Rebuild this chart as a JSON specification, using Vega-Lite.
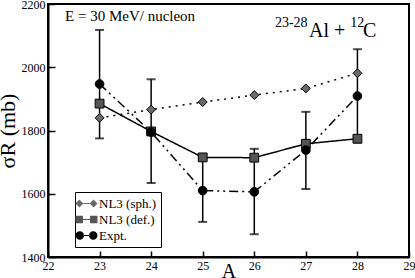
{
  "$schema": "https://vega.github.io/schema/vega-lite/v6.json",
  "autosize": {"type": "none"},
  "width": 361,
  "height": 253,
  "padding": {"left": 48, "top": 4, "right": 6, "bottom": 21},
  "background": "white",
  "config": {
    "font": "'Liberation Serif', 'Times New Roman', 'DejaVu Serif', serif",
    "view": {"stroke": "black", "strokeWidth": 2},
    "axis": {"labelFont": "'Liberation Serif', 'Times New Roman', 'DejaVu Serif', serif", "titleFont": "'Liberation Serif', 'Times New Roman', 'DejaVu Serif', serif", "labelColor": "black", "titleColor": "black", "domainColor": "black", "domainWidth": 2, "tickColor": "black", "tickWidth": 1.5, "grid": false, "titleFontWeight": "normal", "labelFontSize": 12},
    "legend": {"labelFont": "'Liberation Serif', 'Times New Roman', 'DejaVu Serif', serif"}
  },
  "datasets": {
    "main": [
      {"A": 23, "series": "NL3 (sph.)", "sigma": 1840},
      {"A": 24, "series": "NL3 (sph.)", "sigma": 1866},
      {"A": 25, "series": "NL3 (sph.)", "sigma": 1890},
      {"A": 26, "series": "NL3 (sph.)", "sigma": 1912},
      {"A": 27, "series": "NL3 (sph.)", "sigma": 1933},
      {"A": 28, "series": "NL3 (sph.)", "sigma": 1981},
      {"A": 23, "series": "NL3 (def.)", "sigma": 1885},
      {"A": 24, "series": "NL3 (def.)", "sigma": 1797},
      {"A": 25, "series": "NL3 (def.)", "sigma": 1715},
      {"A": 26, "series": "NL3 (def.)", "sigma": 1714},
      {"A": 27, "series": "NL3 (def.)", "sigma": 1758},
      {"A": 28, "series": "NL3 (def.)", "sigma": 1774},
      {"A": 23, "series": "Expt.", "sigma": 1947, "lo": 1775, "hi": 2118},
      {"A": 24, "series": "Expt.", "sigma": 1795, "lo": 1634, "hi": 1962},
      {"A": 25, "series": "Expt.", "sigma": 1610, "lo": 1511, "hi": 1712},
      {"A": 26, "series": "Expt.", "sigma": 1606, "lo": 1472, "hi": 1742},
      {"A": 27, "series": "Expt.", "sigma": 1738, "lo": 1615, "hi": 1859},
      {"A": 28, "series": "Expt.", "sigma": 1909, "lo": 1762, "hi": 2057}
    ]
  },
  "layer": [
    {
      "data": {"name": "main"},
      "transform": [{"filter": "datum.series === 'Expt.'"}],
      "mark": {"type": "rule", "color": "black", "strokeWidth": 1.5},
      "encoding": {
        "x": {"field": "A", "type": "quantitative", "scale": {"domain": [22, 29]},
          "axis": {"values": [22, 23, 24, 25, 26, 27, 28, 29], "format": "d", "title": "A", "titleFontSize": 20, "tickSize": -6, "labelPadding": 9, "titleY": 20, "titleBaseline": "alphabetic", "labelFlush": false}},
        "y": {"field": "lo", "type": "quantitative", "scale": {"domain": [1400, 2200]},
          "axis": {"values": [1400, 1450, 1500, 1550, 1600, 1650, 1700, 1750, 1800, 1850, 1900, 1950, 2000, 2050, 2100, 2150, 2200],
            "format": "d",
            "labelExpr": "datum.value % 100 === 0 ? datum.label : ''",
            "tickSize": {"condition": {"test": "datum.value % 100 === 0", "value": -7}, "value": -4},
            "labelPadding": 10, "title": "σR (mb)", "titleFontSize": 22, "titlePadding": 2, "labelFlush": false}},
        "y2": {"field": "hi"}
      }
    },
    {
      "data": {"name": "main"},
      "transform": [{"filter": "datum.series === 'Expt.'"}],
      "mark": {"type": "tick", "orient": "horizontal", "color": "black", "thickness": 2, "size": 9},
      "encoding": {
        "x": {"field": "A", "type": "quantitative"},
        "y": {"field": "lo", "type": "quantitative"}
      }
    },
    {
      "data": {"name": "main"},
      "transform": [{"filter": "datum.series === 'Expt.'"}],
      "mark": {"type": "tick", "orient": "horizontal", "color": "black", "thickness": 2, "size": 9},
      "encoding": {
        "x": {"field": "A", "type": "quantitative"},
        "y": {"field": "hi", "type": "quantitative"}
      }
    },
    {
      "data": {"name": "main"},
      "mark": {"type": "line", "color": "black", "strokeWidth": 1.5},
      "encoding": {
        "x": {"field": "A", "type": "quantitative"},
        "y": {"field": "sigma", "type": "quantitative"},
        "detail": {"field": "series"},
        "strokeDash": {"field": "series", "type": "nominal", "legend": null,
          "scale": {"domain": ["NL3 (sph.)", "NL3 (def.)", "Expt."], "range": [[2, 5], [1, 0], [9, 4, 2, 4, 2, 4]]}}
      }
    },
    {
      "data": {"name": "main"},
      "mark": {"type": "point", "filled": true, "stroke": "black", "strokeWidth": 1, "opacity": 1},
      "encoding": {
        "x": {"field": "A", "type": "quantitative"},
        "y": {"field": "sigma", "type": "quantitative"},
        "shape": {"field": "series", "type": "nominal", "legend": null,
          "scale": {"domain": ["NL3 (sph.)", "NL3 (def.)", "Expt."], "range": ["diamond", "square", "circle"]}},
        "size": {"field": "series", "type": "nominal", "legend": null,
          "scale": {"domain": ["NL3 (sph.)", "NL3 (def.)", "Expt."], "range": [80, 75, 130]}},
        "fill": {"field": "series", "type": "nominal", "legend": null,
          "scale": {"domain": ["NL3 (sph.)", "NL3 (def.)", "Expt."], "range": ["#6a6a6a", "#555555", "#000000"]}}
      }
    },
    {
      "data": {"name": "main"},
      "mark": {"type": "point", "filled": true, "opacity": 0, "size": 200},
      "encoding": {
        "x": {"field": "A", "type": "quantitative"},
        "y": {"field": "sigma", "type": "quantitative"},
        "fill": {"field": "series", "type": "nominal",
          "scale": {"domain": ["NL3 (sph.)", "NL3 (def.)", "Expt."], "range": ["#6a6a6a", "#555555", "#000000"]},
          "legend": {
            "title": null, "orient": "none", "legendX": 27, "legendY": 188,
            "direction": "vertical", "labelFont": "'Liberation Serif', 'Times New Roman', 'DejaVu Serif', serif",
            "symbolOpacity": 1, "symbolSize": 200, "symbolStrokeColor": "black", "symbolStrokeWidth": 0.8,
            "labelFontSize": 13, "labelColor": "black", "labelOffset": 5, "rowPadding": 1,
            "strokeColor": "black", "fillColor": "white", "padding": 4
          }},
        "shape": {"field": "series", "type": "nominal",
          "scale": {"domain": ["NL3 (sph.)", "NL3 (def.)", "Expt."],
            "range": [
              "M-1.55,0L-1,-0.55L-0.45,0L-1,0.55ZM0.45,0L1,-0.55L1.55,0L1,0.55ZM-0.45,-0.06L0.45,-0.06L0.45,0.06L-0.45,0.06Z",
              "M-1.55,-0.52L-0.5,-0.52L-0.5,0.52L-1.55,0.52ZM0.5,-0.52L1.55,-0.52L1.55,0.52L0.5,0.52ZM-0.5,-0.06L0.5,-0.06L0.5,0.06L-0.5,0.06Z",
              "M-1.55,0A0.6,0.6 0 1,0 -0.35,0A0.6,0.6 0 1,0 -1.55,0ZM0.35,0A0.6,0.6 0 1,0 1.55,0A0.6,0.6 0 1,0 0.35,0ZM-0.4,-0.06L0.4,-0.06L0.4,0.06L-0.4,0.06Z"
            ]},
          "legend": {
            "title": null, "orient": "none", "legendX": 27, "legendY": 188,
            "direction": "vertical", "labelFont": "'Liberation Serif', 'Times New Roman', 'DejaVu Serif', serif",
            "symbolOpacity": 1, "symbolSize": 200, "symbolStrokeColor": "black", "symbolStrokeWidth": 0.8,
            "labelFontSize": 13, "labelColor": "black", "labelOffset": 5, "rowPadding": 1,
            "strokeColor": "black", "fillColor": "white", "padding": 4
          }
        }
      }
    },
    {
      "data": {"values": [{"A": 22.33, "sigma": 2147, "label": "E = 30 MeV/ nucleon"}]},
      "mark": {"type": "text", "align": "left", "baseline": "alphabetic", "fontSize": 15, "color": "black", "font": "'Liberation Serif', 'Times New Roman', 'DejaVu Serif', serif"},
      "encoding": {
        "x": {"field": "A", "type": "quantitative"},
        "y": {"field": "sigma", "type": "quantitative"},
        "text": {"field": "label"}
      }
    },
    {
      "data": {"values": [{"A": 26.4, "sigma": 2127, "label": "23-28"}, {"A": 27.86, "sigma": 2127, "label": "12"}]},
      "mark": {"type": "text", "align": "left", "baseline": "alphabetic", "fontSize": 14, "color": "black", "font": "'Liberation Serif', 'Times New Roman', 'DejaVu Serif', serif"},
      "encoding": {
        "x": {"field": "A", "type": "quantitative"},
        "y": {"field": "sigma", "type": "quantitative"},
        "text": {"field": "label"}
      }
    },
    {
      "data": {"values": [{"A": 27.06, "sigma": 2095, "label": "Al +"}, {"A": 28.11, "sigma": 2095, "label": "C"}]},
      "mark": {"type": "text", "align": "left", "baseline": "alphabetic", "fontSize": 20, "color": "black", "font": "'Liberation Serif', 'Times New Roman', 'DejaVu Serif', serif"},
      "encoding": {
        "x": {"field": "A", "type": "quantitative"},
        "y": {"field": "sigma", "type": "quantitative"},
        "text": {"field": "label"}
      }
    }
  ],
  "resolve": {"scale": {"shape": "independent", "size": "independent", "fill": "independent"}}
}
